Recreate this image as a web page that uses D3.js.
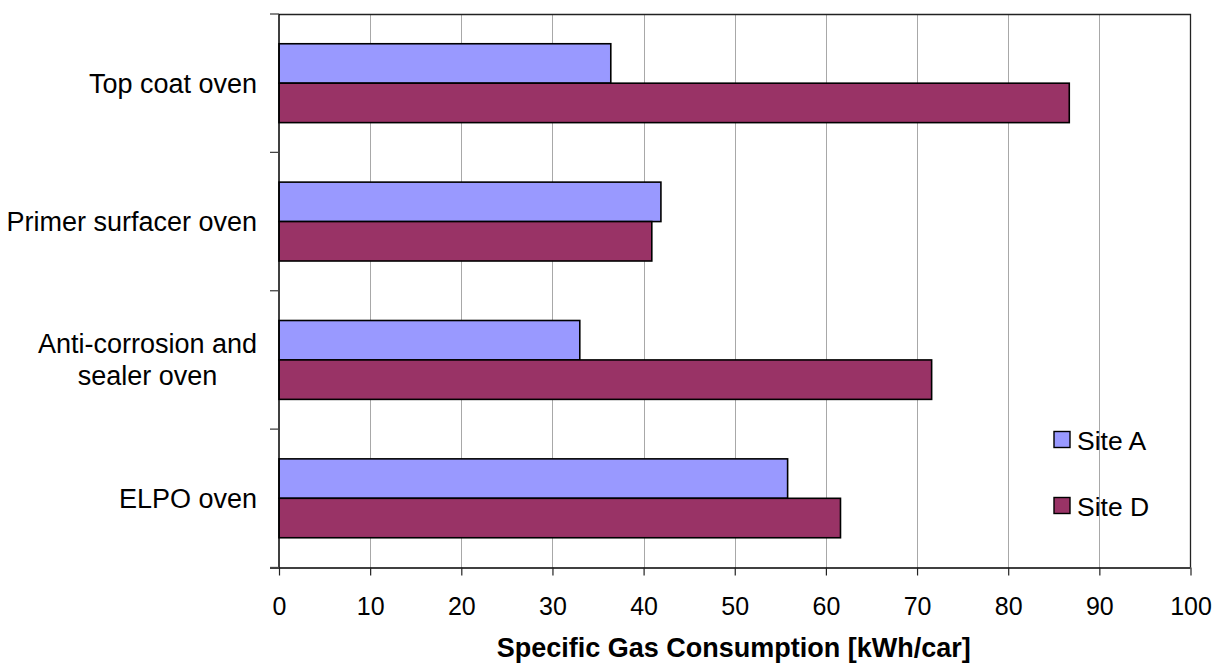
<!DOCTYPE html>
<html>
<head>
<meta charset="utf-8">
<script src="https://cdn.jsdelivr.net/npm/d3@7"></script>
<style>
  html, body { margin: 0; padding: 0; background: #fff; }
  svg { display: block; font-family: "Liberation Sans", Arial, sans-serif; }
</style>
</head>
<body>
<svg id="chart" width="1215" height="666"></svg>
<script>
// Ovens (top to bottom) and their label lines
const categories = ["Top coat oven", "Primer surfacer oven", "Anti-corrosion and sealer oven", "ELPO oven"];
const categoryLines = [["Top coat oven"], ["Primer surfacer oven"], ["Anti-corrosion and", "sealer oven"], ["ELPO oven"]];
const seriesNames = ["Site A", "Site D"];
const siteA = [36.4, 41.9, 33.0, 55.8];
const siteD = [86.7, 40.9, 71.6, 61.6];
const xTicks = [0, 10, 20, 30, 40, 50, 60, 70, 80, 90, 100];
const xTitle = "Specific Gas Consumption [kWh/car]";

const colors = { "Site A": "#9999ff", "Site D": "#993366" };
const seriesValues = { "Site A": siteA, "Site D": siteD };

const svg = d3.select("#chart");
const plot = { left: 279, right: 1190.5, top: 14, bottom: 567.5 };

const x = d3.scaleLinear().domain([0, 100]).range([plot.left, plot.right]);
const y = d3.scaleBand().domain(categories).range([plot.top, plot.bottom])
  .paddingInner(0.43).paddingOuter(0.215);
const ySeries = d3.scaleBand().domain(seriesNames).range([0, y.bandwidth()]);

// Vertical gridlines
svg.append("g").selectAll("line").data(xTicks.filter(t => t > 0 && t < 100)).join("line")
  .attr("x1", d => Math.round(x(d)) + 0.5).attr("x2", d => Math.round(x(d)) + 0.5)
  .attr("y1", plot.top).attr("y2", plot.bottom)
  .attr("stroke", "#a8a8a8").attr("stroke-width", 1);

// Plot frame (top and right)
svg.append("path")
  .attr("d", `M${plot.left},${plot.top + 0.5}H${plot.right}V${plot.bottom}`)
  .attr("fill", "none").attr("stroke", "#222").attr("stroke-width", 1.3);

// Bars
const rows = categories.map((c, i) => ({ c, i }));
const groups = svg.append("g").selectAll("g").data(rows).join("g")
  .attr("transform", d => `translate(0,${y(d.c)})`);
groups.selectAll("rect")
  .data(d => seriesNames.map(s => ({ s, v: seriesValues[s][d.i] })))
  .join("rect")
  .attr("x", x(0))
  .attr("y", d => ySeries(d.s))
  .attr("width", d => x(d.v) - x(0))
  .attr("height", ySeries.bandwidth())
  .attr("fill", d => colors[d.s])
  .attr("stroke", "#000").attr("stroke-width", 1.6);

// Bottom axis
const xAxis = svg.append("g").attr("transform", `translate(0,${plot.bottom})`)
  .call(d3.axisBottom(x).tickValues(xTicks).tickSize(8).tickSizeOuter(0).tickFormat(d3.format("d")));
xAxis.select(".domain").attr("stroke", "#000").attr("stroke-width", 1.5)
  .attr("d", `M${plot.left - 9},0.5H${plot.right}`);
xAxis.selectAll(".tick line").attr("stroke", "#222").attr("stroke-width", 1.2);
xAxis.selectAll(".tick text").attr("font-size", 25).attr("fill", "#000")
  .attr("font-family", "Liberation Sans, Arial, sans-serif")
  .attr("y", 47).attr("dy", 0);

// Left axis line and boundary ticks between categories
const boundaries = categories.map(c => y(c) - y.step() * y.paddingOuter()).concat([plot.bottom]);
svg.append("line")
  .attr("x1", plot.left).attr("x2", plot.left).attr("y1", plot.top).attr("y2", plot.bottom)
  .attr("stroke", "#000").attr("stroke-width", 1.5);
svg.append("g").selectAll("line").data(boundaries).join("line")
  .attr("x1", plot.left - 9).attr("x2", plot.left)
  .attr("y1", d => d).attr("y2", d => d)
  .attr("stroke", "#444").attr("stroke-width", 1.3);

// Category labels
const labelRight = 257;
const lineGap = 32;
const labels = svg.append("g").attr("font-size", 27).attr("fill", "#000");
rows.forEach(r => {
  const lines = categoryLines[r.i];
  const cy = y(r.c) + y.bandwidth() / 2;
  const g = labels.append("g");
  const texts = lines.map((ln, k) => g.append("text")
    .attr("y", cy + (k - (lines.length - 1) / 2) * lineGap)
    .attr("dy", "0.35em")
    .text(ln));
  const widths = texts.map(t => t.node().getComputedTextLength());
  const maxW = d3.max(widths);
  const center = labelRight - maxW / 2;
  texts.forEach(t => t.attr("x", center).attr("text-anchor", "middle"));
});

// Axis title
svg.append("text")
  .attr("x", (plot.left + plot.right) / 2 - 1).attr("y", 657)
  .attr("text-anchor", "middle").attr("font-size", 27).attr("font-weight", "bold")
  .text(xTitle);

// Legend
const legend = svg.append("g").attr("transform", "translate(1054,0)");
const legendY = [440, 506];
seriesNames.forEach((s, i) => {
  legend.append("rect")
    .attr("x", 0).attr("y", legendY[i] - 8.5).attr("width", 16).attr("height", 16)
    .attr("fill", colors[s]).attr("stroke", "#000").attr("stroke-width", 1.4);
  legend.append("text")
    .attr("x", 23).attr("y", legendY[i]).attr("dy", "0.36em")
    .attr("font-size", 26.5).text(s);
});
</script>
</body>
</html>
